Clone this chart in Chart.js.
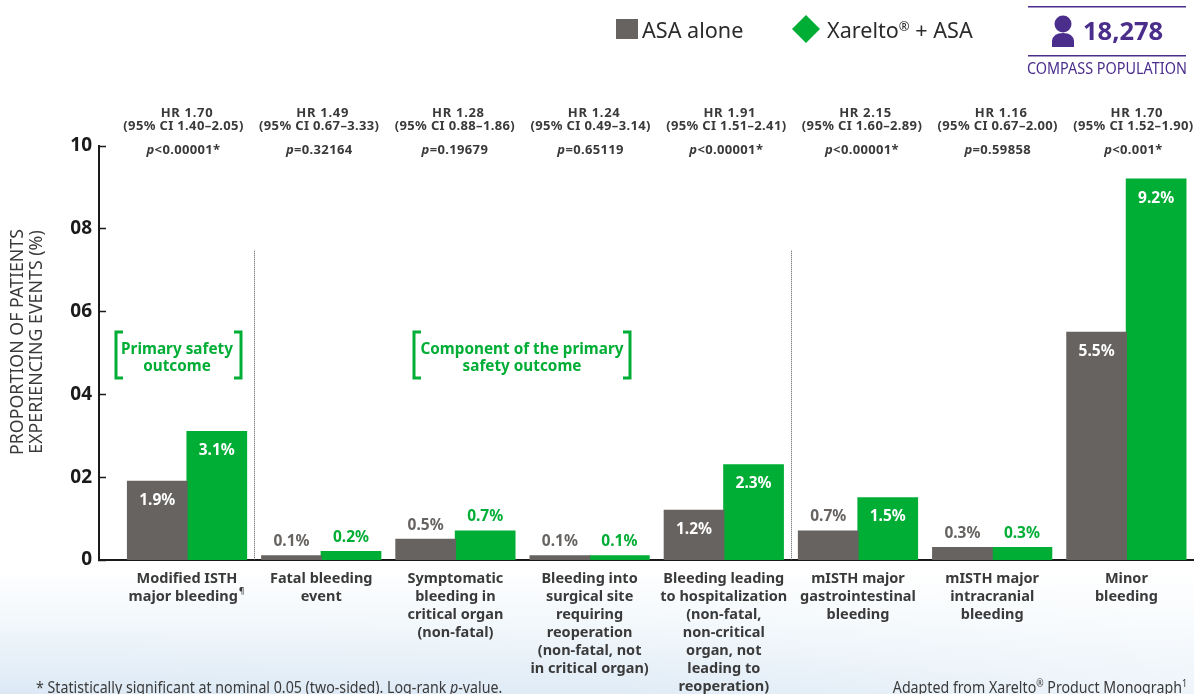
<!DOCTYPE html>
<html>
<head>
<meta charset="utf-8">
<title>COMPASS safety outcomes</title>
<script src="https://cdn.jsdelivr.net/npm/chart.js@4"></script>
<style>
    html, body { margin: 0; padding: 0; overflow: hidden; }
    body {
        width: 1194px;
        height: 694px;
        background:
            linear-gradient(90deg, rgba(255,255,255,0) 0%, rgba(255,255,255,0.1) 50%, rgba(255,255,255,0.5) 100%),
            linear-gradient(180deg, #ffffff 0%, #ffffff 82%, #f1f7fb 90%, #dce9f5 100%);
    }
    canvas { display: block; }
</style>
</head>
<body>
<canvas id="chart" width="1194" height="694"></canvas>
<script>
const categories = [
    ['Modified ISTH', 'major bleeding\u00a0\u00a0'],
    ['Fatal bleeding', 'event'],
    ['Symptomatic', 'bleeding in', 'critical organ', '(non-fatal)'],
    ['Bleeding into', 'surgical site', 'requiring', 'reoperation', '(non-fatal, not', 'in critical organ)'],
    ['Bleeding leading', 'to hospitalization', '(non-fatal,', 'non-critical', 'organ, not', 'leading to', 'reoperation)'],
    ['mISTH major', 'gastrointestinal', 'bleeding'],
    ['mISTH major', 'intracranial', 'bleeding'],
    ['Minor', 'bleeding']
];
const asaValues = [1.9, 0.1, 0.5, 0.1, 1.2, 0.7, 0.3, 5.5];
const xareltoValues = [3.1, 0.2, 0.7, 0.1, 2.3, 1.5, 0.3, 9.2];
const hrLabels = ['HR 1.70', 'HR 1.49', 'HR 1.28', 'HR 1.24', 'HR 1.91', 'HR 2.15', 'HR 1.16', 'HR 1.70'];
const ciLabels = [
    '(95% CI 1.40\u20132.05)', '(95% CI 0.67\u20133.33)', '(95% CI 0.88\u20131.86)', '(95% CI 0.49\u20133.14)',
    '(95% CI 1.51\u20132.41)', '(95% CI 1.60\u20132.89)', '(95% CI 0.67\u20132.00)', '(95% CI 1.52\u20131.90)'
];
const pLabels = ['<0.00001*', '=0.32164', '=0.19679', '=0.65119', '<0.00001*', '<0.00001*', '=0.59858', '<0.001*'];
const yTickLabels = { 0: '0', 2: '02', 4: '04', 6: '06', 8: '08', 10: '10' };

const GREY = '#676360';
const GREEN = '#00ae36';
const PURPLE = '#4b2e8c';
const INK = '#3b3a3a';
const SANS = '"Noto Sans"';

// draws a line made of differently styled pieces (italic p, superscripts);
// sx squeezes it horizontally for the condensed footnotes
function drawRuns(ctx, runs, x, y, align, sx = 1) {
    let width = 0;
    runs.forEach(r => {
        ctx.font = r.font;
        width += ctx.measureText(r.text).width;
    });
    let cx = align === 'center' ? -width / 2 : align === 'right' ? -width : 0;
    ctx.save();
    ctx.translate(x, y);
    ctx.scale(sx, 1);
    ctx.textAlign = 'left';
    ctx.textBaseline = 'middle';
    runs.forEach(r => {
        ctx.font = r.font;
        ctx.fillStyle = r.color;
        ctx.fillText(r.text, cx, r.dy || 0);
        cx += ctx.measureText(r.text).width;
    });
    ctx.restore();
}

function drawBracket(ctx, left, right, top, bottom) {
    ctx.strokeStyle = GREEN;
    ctx.lineWidth = 3;
    ctx.beginPath();
    ctx.moveTo(left + 7, top);
    ctx.lineTo(left, top);
    ctx.lineTo(left, bottom);
    ctx.lineTo(left + 7, bottom);
    ctx.moveTo(right - 7, top);
    ctx.lineTo(right, top);
    ctx.lineTo(right, bottom);
    ctx.lineTo(right - 7, bottom);
    ctx.stroke();
}

const annotations = {
    id: 'annotations',
    afterDatasetsDraw(chart) {
        const ctx = chart.ctx;
        const xs = chart.scales.x;
        const ys = chart.scales.y;
        ctx.save();

        // value labels, white inside the tall bars and coloured above the short ones
        [asaValues, xareltoValues].forEach((values, d) => {
            chart.getDatasetMeta(d).data.forEach((bar, i) => {
                const inside = values[i] >= 1;
                const color = inside ? '#ffffff' : (d === 0 ? GREY : GREEN);
                const label = values[i].toFixed(1) + '%';
                drawRuns(ctx, [{ text: label, font: `bold 15.5px ${SANS}`, color }], bar.x, bar.y + (inside ? 19 : -14), 'center');
            });
        });

        // hazard ratio block, laid out a little wider than the bar groups
        const headFont = `bold 13px ${SANS}`;
        categories.forEach((c, i) => {
            const x = 183.5 + 135.7 * i;
            ctx.letterSpacing = '0.7px';
            drawRuns(ctx, [{ text: hrLabels[i], font: headFont, color: INK }], x + 3.5, 113, 'center');
            ctx.letterSpacing = '0.35px';
            drawRuns(ctx, [{ text: ciLabels[i], font: headFont, color: INK }], x, 126, 'center');
            drawRuns(ctx, [
                { text: 'p', font: `italic ${headFont}`, color: INK },
                { text: pLabels[i], font: headFont, color: INK }
            ], x, 150, 'center');
        });
        ctx.letterSpacing = '0px';

        // small pilcrow after the first category label
        drawRuns(ctx, [{ text: '\u00b6', font: `bold 8px ${SANS}`, color: INK }], xs.getPixelForValue(0) + 52, 592, 'left');

        // dotted separators between outcome groups
        ctx.strokeStyle = '#555555';
        ctx.lineWidth = 1;
        ctx.setLineDash([1, 1]);
        [0.5, 4.5].forEach(v => {
            const x = Math.round(xs.getPixelForValue(v)) + 0.5;
            ctx.beginPath();
            ctx.moveTo(x, ys.getPixelForValue(7.47));
            ctx.lineTo(x, ys.getPixelForValue(0));
            ctx.stroke();
        });
        ctx.setLineDash([]);

        // green outcome callouts
        drawBracket(ctx, 116, 241, 332, 378);
        drawBracket(ctx, 414, 630, 332, 378);
        const calloutFont = `bold 15.3px ${SANS}`;
        drawRuns(ctx, [{ text: 'Primary safety', font: calloutFont, color: GREEN }], 177, 349.5, 'center');
        drawRuns(ctx, [{ text: 'outcome', font: calloutFont, color: GREEN }], 177, 366.5, 'center');
        drawRuns(ctx, [{ text: 'Component of the primary', font: calloutFont, color: GREEN }], 522, 349.5, 'center');
        drawRuns(ctx, [{ text: 'safety outcome', font: calloutFont, color: GREEN }], 522, 366.5, 'center');

        // axis title, two rotated lines
        ctx.save();
        ctx.translate(18, 342);
        ctx.rotate(-Math.PI / 2);
        drawRuns(ctx, [{ text: 'PROPORTION OF PATIENTS', font: `17.8px ${SANS}`, color: INK }], 0, 0, 'center');
        drawRuns(ctx, [{ text: 'EXPERIENCING EVENTS (%)', font: `17.8px ${SANS}`, color: INK }], 0, 19, 'center');
        ctx.restore();

        // legend
        ctx.fillStyle = GREY;
        ctx.fillRect(616, 19, 22, 20);
        drawRuns(ctx, [{ text: 'ASA alone', font: `21.6px ${SANS}`, color: '#2b2b2b' }], 642, 31.5, 'left');
        ctx.fillStyle = GREEN;
        ctx.beginPath();
        ctx.moveTo(806, 15);
        ctx.lineTo(820, 29);
        ctx.lineTo(806, 43);
        ctx.lineTo(792, 29);
        ctx.closePath();
        ctx.fill();
        drawRuns(ctx, [
            { text: 'Xarelto', font: `21.6px ${SANS}`, color: '#2b2b2b' },
            { text: '\u00ae', font: `13px ${SANS}`, color: '#2b2b2b', dy: -4 },
            { text: ' + ASA', font: `21.6px ${SANS}`, color: '#2b2b2b' }
        ], 827, 31.5, 'left');

        // population box
        ctx.fillStyle = PURPLE;
        ctx.fillRect(1028, 6, 158, 1.5);
        ctx.fillRect(1028, 55, 158, 1.5);
        ctx.beginPath();
        ctx.arc(1063, 24, 8.5, 0, Math.PI * 2);
        ctx.fill();
        ctx.beginPath();
        ctx.moveTo(1052, 47);
        ctx.lineTo(1052, 41);
        ctx.quadraticCurveTo(1053, 33, 1063, 33);
        ctx.quadraticCurveTo(1073, 33, 1074, 41);
        ctx.lineTo(1074, 47);
        ctx.closePath();
        ctx.fill();
        drawRuns(ctx, [{ text: '18,278', font: `bold 25.5px ${SANS}`, color: PURPLE }], 1083, 33, 'left');
        drawRuns(ctx, [{ text: 'COMPASS POPULATION', font: `16px ${SANS}`, color: PURPLE }], 1027, 69, 'left', 0.9);

        // footnotes run off the bottom edge
        drawRuns(ctx, [
            { text: '* Statistically significant at nominal 0.05 (two-sided). Log-rank ', font: `16px ${SANS}`, color: INK },
            { text: 'p', font: `italic 16px ${SANS}`, color: INK },
            { text: '-value.', font: `16px ${SANS}`, color: INK }
        ], 36, 688, 'left', 0.888);
        drawRuns(ctx, [
            { text: 'Adapted from Xarelto', font: `16px ${SANS}`, color: INK },
            { text: '\u00ae', font: `10px ${SANS}`, color: INK, dy: -4 },
            { text: ' Product Monograph', font: `16px ${SANS}`, color: INK },
            { text: '1', font: `10px ${SANS}`, color: INK, dy: -4 }
        ], 1187, 688, 'right', 0.888);

        ctx.restore();
    }
};

new Chart(document.getElementById('chart').getContext('2d'), {
    type: 'bar',
    data: {
        datasets: [
            { label: 'ASA alone', data: asaValues.map((v, i) => ({ x: i, y: v })), backgroundColor: GREY, inflateAmount: 0.6 },
            { label: 'Xarelto\u00ae + ASA', data: xareltoValues.map((v, i) => ({ x: i, y: v })), backgroundColor: GREEN, inflateAmount: 0.6 }
        ]
    },
    plugins: [annotations],
    options: {
        responsive: false,
        animation: false,
        layout: { padding: { top: 146, left: 0, right: 0, bottom: 0 } },
        categoryPercentage: 0.887,
        barPercentage: 1,
        plugins: { legend: { display: false }, tooltip: { enabled: false } },
        scales: {
            x: {
                type: 'linear',
                offset: false,
                bounds: 'data',
                min: -0.656,
                max: 7.504,
                afterBuildTicks(scale) {
                    scale.ticks = categories.map((c, i) => ({ value: i }));
                },
                afterFit(scale) {
                    scale.height = 134;
                },
                grid: { display: false, offset: false },
                border: { display: true, color: '#1a1a1a', width: 2 },
                ticks: {
                    autoSkip: false,
                    maxRotation: 0,
                    minRotation: 0,
                    padding: 2,
                    color: INK,
                    font: { family: 'Noto Sans', size: 14.5, weight: 'bold', lineHeight: 1.24 },
                    callback: value => categories[value]
                }
            },
            y: {
                min: 0,
                max: 10,
                afterFit(scale) {
                    scale.width = 99;
                },
                grid: { drawOnChartArea: false, tickLength: -7, tickWidth: 1.5, tickColor: '#1a1a1a' },
                border: { color: '#1a1a1a', width: 2 },
                ticks: {
                    stepSize: 2,
                    padding: 14,
                    color: '#1a1a1a',
                    font: { family: 'Noto Sans', size: 19, weight: 'bold' },
                    callback: value => yTickLabels[value]
                }
            }
        }
    }
});
</script>
</body>
</html>
